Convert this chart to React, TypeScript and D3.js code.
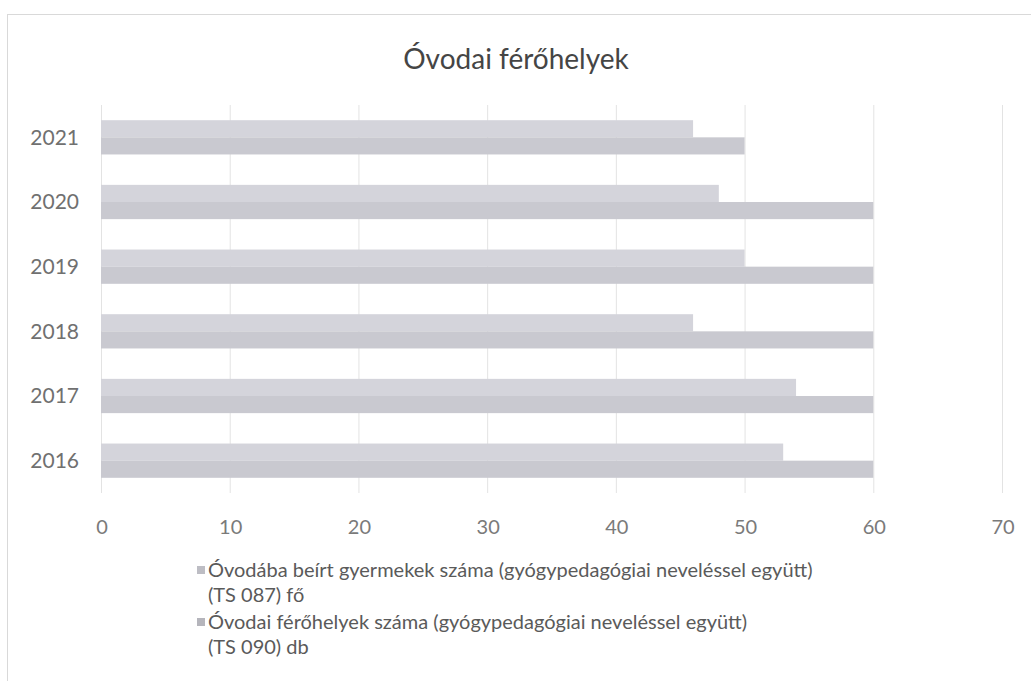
import React, { useEffect, useRef } from 'react';
import * as d3 from 'd3';

const years = ['2021', '2020', '2019', '2018', '2017', '2016'];
const enrolled = [46, 48, 50, 46, 54, 53];
const places = [50, 60, 60, 60, 60, 60];
const xTicks = [0, 10, 20, 30, 40, 50, 60, 70];
const seriesNames = [
  ['Óvodába beírt gyermekek száma (gyógypedagógiai neveléssel együtt)', '(TS 087) fő'],
  ['Óvodai férőhelyek száma (gyógypedagógiai neveléssel együtt)', '(TS 090) db'],
];
const colors = ['#d4d4db', '#c9c9d0'];
const swatchColors = ['#bdbdc4', '#b5b5bc'];

const W = 1031;
const H = 681;
const FONT = 'Lato, "Open Sans", sans-serif';

const App: React.FC = () => {
  const ref = useRef<SVGSVGElement>(null);

  useEffect(() => {
    const svg = d3.select(ref.current);
    svg.selectAll('*').remove();

    // cornice del grafico
    svg.append('rect')
      .attr('x', 7.5).attr('y', 14.5)
      .attr('width', W + 10).attr('height', H + 10)
      .attr('fill', 'none')
      .attr('stroke', '#d9d9d9');

    svg.append('text')
      .attr('x', 516).attr('y', 69)
      .attr('text-anchor', 'middle')
      .style('font-family', FONT)
      .style('font-size', '28px')
      .attr('fill', '#454545')
      .text('Óvodai férőhelyek');

    const x = d3.scaleLinear().domain([0, 70]).range([101, 1002]);
    const y = d3.scaleBand<string>()
      .domain(years)
      .range([105, 493])
      .paddingInner(0.47)
      .paddingOuter(0.235);

    // griglia verticale
    svg.append('g').selectAll('line')
      .data(xTicks)
      .enter()
      .append('line')
      .attr('x1', d => x(d) + 0.5).attr('x2', d => x(d) + 0.5)
      .attr('y1', 105).attr('y2', 493)
      .attr('stroke', '#e3e3e3')
      .attr('stroke-width', 1);

    const bh = y.bandwidth() / 2;
    const series = [enrolled, places];
    series.forEach((vals, si) => {
      svg.append('g').selectAll('rect')
        .data(vals)
        .enter()
        .append('rect')
        .attr('x', x(0))
        .attr('y', (_, i) => (y(years[i]) as number) + si * bh)
        .attr('width', d => x(d) - x(0))
        .attr('height', bh)
        .attr('fill', colors[si]);
    });

    // etichette asse y
    svg.append('g').selectAll('text')
      .data(years)
      .enter()
      .append('text')
      .attr('x', 79)
      .attr('y', d => (y(d) as number) + y.bandwidth() / 2)
      .attr('dy', '0.35em')
      .attr('text-anchor', 'end')
      .style('font-family', FONT)
      .style('font-size', '21px')
      .attr('fill', '#707070')
      .text(d => d);

    // etichette asse x
    svg.append('g').selectAll('text')
      .data(xTicks)
      .enter()
      .append('text')
      .attr('x', d => x(d) + 1)
      .attr('y', 527)
      .attr('dy', '0.35em')
      .attr('text-anchor', 'middle')
      .style('font-family', FONT)
      .style('font-size', '20px')
      .attr('fill', '#7a7a7a')
      .text(d => d);

    // legenda
    const legend = svg.append('g');
    seriesNames.forEach((lines, si) => {
      const top = 570 + si * 52;
      legend.append('rect')
        .attr('x', 197).attr('y', top - 4)
        .attr('width', 8).attr('height', 8)
        .attr('fill', swatchColors[si]);
      lines.forEach((line, li) => {
        legend.append('text')
          .attr('x', 208)
          .attr('y', top + li * 25)
          .attr('dy', '0.35em')
          .style('font-family', FONT)
          .style('font-size', '20px')
          .attr('fill', '#5a5a5a')
          .text(line);
      });
    });
  }, []);

  return (
    <div style={{ position: 'absolute', left: 0, top: 0, background: '#fff' }}>
      <svg ref={ref} width={W} height={H} style={{ display: 'block' }} />
    </div>
  );
};

export default App;
